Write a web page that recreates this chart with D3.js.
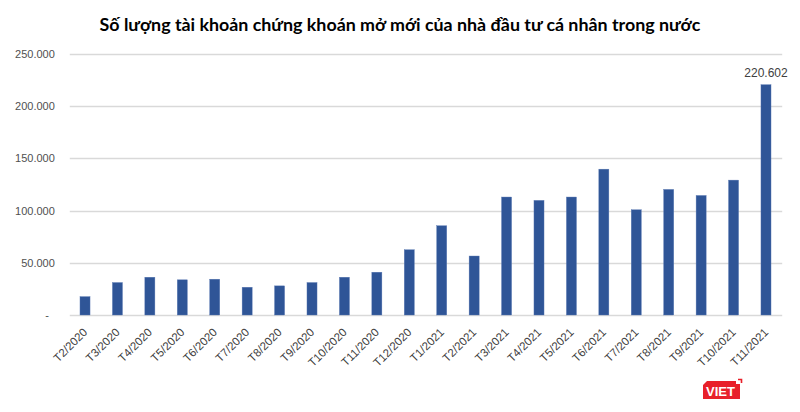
<!DOCTYPE html>
<html>
<head>
<meta charset="utf-8">
<script src="https://cdn.jsdelivr.net/npm/d3@7"></script>
<style>
  html, body { margin: 0; padding: 0; background: #fff; }
  svg { display: block; }
</style>
</head>
<body>
<svg id="chart" width="800" height="412"></svg>
<script>
const title = "Số lượng tài khoản chứng khoán mở mới của nhà đầu tư cá nhân trong nước";
const categories = ["T2/2020","T3/2020","T4/2020","T5/2020","T6/2020","T7/2020","T8/2020","T9/2020","T10/2020","T11/2020","T12/2020",
  "T1/2021","T2/2021","T3/2021","T4/2021","T5/2021","T6/2021","T7/2021","T8/2021","T9/2021","T10/2021","T11/2021"];
const values = [17600, 31100, 36200, 33700, 34300, 26600, 27900, 31100, 36200, 41000, 62500,
  85500, 56500, 113000, 109800, 113000, 139700, 100800, 120300, 114500, 129200, 220602];
const yTicks = [0, 50000, 100000, 150000, 200000, 250000];
const labelledIndex = [21];

const svg = d3.select("#chart");
const margin = {left: 68.8, right: 17.8, top: 54, bottom: 97};
const W = 800, H = 412;

const x = d3.scaleBand().domain(categories)
  .range([margin.left, W - margin.right])
  .paddingInner(0.69).paddingOuter(0.345);
const y = d3.scaleLinear().domain([0, 250000]).range([H - margin.bottom, margin.top]);

const fmt = v => v === 0 ? "-" : d3.format(",")(v).replace(/,/g, ".");

// gridlines
svg.append("g").selectAll("line").data(yTicks).join("line")
  .attr("x1", margin.left + 1).attr("x2", W - margin.right)
  .attr("y1", d => Math.round(y(d)) + 0.5).attr("y2", d => Math.round(y(d)) + 0.5)
  .attr("stroke", "#d9d9d9").attr("stroke-width", 1.3);

// y axis labels
const yAxis = d3.axisLeft(y).tickValues(yTicks).tickFormat(fmt).tickSize(0).tickPadding(14);
const gy = svg.append("g").attr("transform", `translate(${margin.left},0)`).call(yAxis);
gy.select(".domain").remove();
gy.selectAll("text")
  .attr("font-family", "'Liberation Sans', Arial, sans-serif")
  .attr("font-size", 11).attr("fill", "#505050")
  .attr("dx", d => d === 0 ? -6 : 0);

// bars
svg.append("g").selectAll("rect").data(values).join("rect")
  .attr("x", (d, i) => x(categories[i]))
  .attr("width", x.bandwidth())
  .attr("y", d => y(d))
  .attr("height", d => y(0) - y(d))
  .attr("fill", "#2f5597")
  .attr("stroke", "#5a79b3").attr("stroke-width", 0.4);

// x axis labels
const xAxis = d3.axisBottom(x).tickSize(0).tickPadding(0);
const gx = svg.append("g").attr("transform", `translate(0,${y(0)})`).call(xAxis);
gx.select(".domain").remove();
gx.selectAll("text")
  .attr("font-family", "'Liberation Sans', Arial, sans-serif")
  .attr("font-size", 11.5).attr("fill", "#404040")
  .attr("text-anchor", "end")
  .attr("dy", 0)
  .attr("transform", "translate(3,18) rotate(-45)");

// data label
svg.append("g").selectAll("text").data(labelledIndex).join("text")
  .attr("x", i => x(categories[i]) + x.bandwidth() / 2)
  .attr("y", i => y(values[i]) - 8)
  .attr("text-anchor", "middle")
  .attr("font-family", "'Liberation Sans', Arial, sans-serif")
  .attr("font-size", 12).attr("fill", "#404040")
  .text(i => fmt(values[i]));

// title
const t = svg.append("text")
  .attr("x", 400).attr("y", 31)
  .attr("text-anchor", "middle")
  .attr("font-family", "Lato, 'Noto Sans', sans-serif")
  .attr("font-weight", "bold")
  .attr("font-size", 18).attr("fill", "#000")
  .text(title);
const tw = t.node().getComputedTextLength();
t.attr("font-size", 18 * 601 / tw);

// VIET logo
const logo = svg.append("g").attr("transform", "translate(703,377)");
logo.append("path")
  .attr("d", "M4,4 L33,4 L33,7 L37,7 L37,22 L0,22 L0,8 Z")
  .attr("fill", "#e8202a");
logo.append("path")
  .attr("d", "M35,2.5 L38.5,2.5 L38.5,6")
  .attr("fill", "none").attr("stroke", "#e8202a").attr("stroke-width", 1.6);
logo.append("text")
  .attr("x", 17.5).attr("y", 18.5).attr("text-anchor", "middle")
  .attr("font-family", "'Liberation Sans', Arial, sans-serif")
  .attr("font-weight", "bold").attr("font-size", 13).attr("fill", "#fff")
  .text("VIET");
</script>
</body>
</html>
